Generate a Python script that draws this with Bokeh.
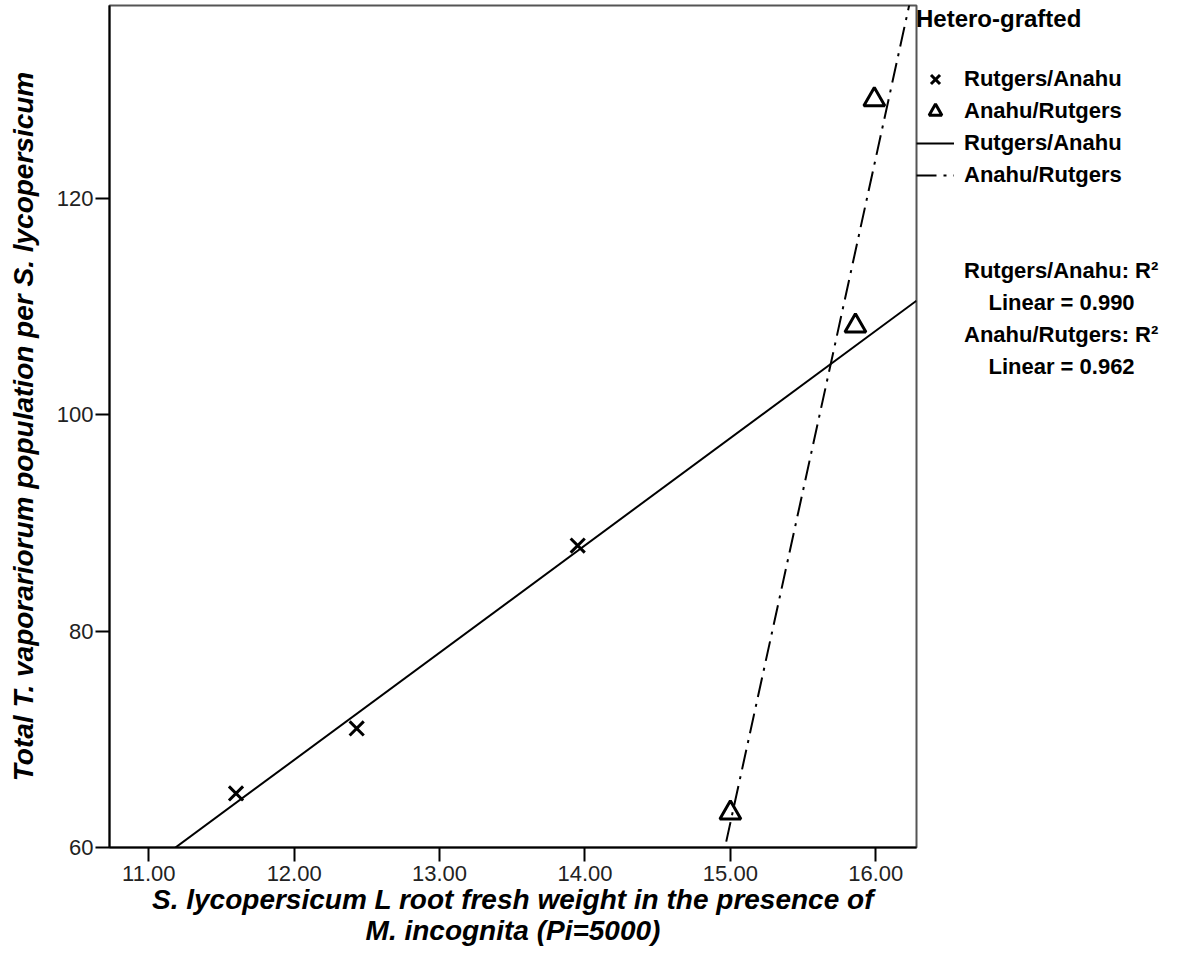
import numpy as np
from bokeh.plotting import figure
from bokeh.models import Legend, LegendItem, Range1d, FixedTicker, NumeralTickFormatter
from bokeh.embed import file_html
from bokeh.resources import INLINE

# ---- data ----
ra_x = [11.60, 12.43, 13.95]          # Rutgers/Anahu
ra_y = [65.0, 71.0, 87.9]
ar_x = [15.00, 15.86, 15.99]          # Anahu/Rutgers
ar_y = [63.2, 108.2, 129.1]
x_ticks = [11, 12, 13, 14, 15, 16]
y_ticks = [60, 80, 100, 120]
r2_ra = 0.990
r2_ar = 0.962
x_lo, x_hi = 10.73, 16.28
y_lo, y_hi = 60.0, 137.8

FONT = "Liberation Sans"
NB = "\u00a0"

p = figure(frame_width=807, frame_height=842, output_backend="svg", toolbar_location=None,
           x_range=Range1d(x_lo, x_hi), y_range=Range1d(y_lo, y_hi),
           min_border_left=109, min_border_right=267, min_border_top=5, min_border_bottom=118)
p.grid.visible = False
p.background_fill_color = "white"
p.border_fill_color = "white"
p.outline_line_color = "#555555"
p.outline_line_width = 2

# fit lines (least squares from the data)
ra_fit = np.polyfit(ra_x, ra_y, 1)
ar_fit = np.polyfit(ar_x, ar_y, 1)
xs = np.array([x_lo, x_hi])
r_ra_line = p.line(xs, np.polyval(ra_fit, xs), line_color="black", line_width=2)
r_ar_line = p.line(xs, np.polyval(ar_fit, xs), line_color="black", line_width=2,
                   line_dash="20 7 3 7")

r_ra = p.scatter(ra_x, ra_y, marker="x", size=20, line_color="black", line_width=3)
r_ar = p.scatter(ar_x, ar_y, marker="triangle", size=21, line_color="black",
                 line_width=3, fill_color=None)

# axes
p.xaxis.ticker = FixedTicker(ticks=x_ticks)
p.yaxis.ticker = FixedTicker(ticks=y_ticks)
p.xaxis.formatter = NumeralTickFormatter(format="0.00")
p.yaxis.formatter = NumeralTickFormatter(format="0")
for ax in (p.xaxis[0], p.yaxis[0]):
    ax.axis_line_color = "black"
    ax.axis_line_width = 2
    ax.major_tick_line_color = "black"
    ax.major_tick_line_width = 2
    ax.major_tick_in = 0
    ax.major_tick_out = 14
    ax.minor_tick_line_color = None
    ax.major_label_text_font = FONT
    ax.major_label_text_font_size = "22px"
    ax.major_label_text_color = "#222222"
    ax.axis_label_text_font = FONT
    ax.axis_label_text_font_style = "bold italic"
    ax.axis_label_text_font_size = "28px"
    ax.axis_label_text_line_height = 1.0
    ax.axis_label_text_color = "black"

p.xaxis.major_label_standoff = 4
p.xaxis.axis_label = "S. lycopersicum L root fresh weight in the presence of\nM. incognita (Pi=5000)"
p.xaxis.axis_label_standoff = 0
p.yaxis.major_label_standoff = 2
p.yaxis.axis_label = "Total T. vaporariorum population per S. lycopersicum"
p.yaxis.axis_label_standoff = 15

# legend (symbols, fit lines, and the R-squared notes below them)
legend = Legend(items=[
    LegendItem(label="Rutgers/Anahu", renderers=[r_ra]),
    LegendItem(label="Anahu/Rutgers", renderers=[r_ar]),
    LegendItem(label="Rutgers/Anahu", renderers=[r_ra_line]),
    LegendItem(label="Anahu/Rutgers", renderers=[r_ar_line]),
    LegendItem(label=NB, renderers=[]),
    LegendItem(label=NB, renderers=[]),
    LegendItem(label="Rutgers/Anahu: R\u00b2", renderers=[]),
    LegendItem(label=NB * 4 + f"Linear = {r2_ra:.3f}", renderers=[]),
    LegendItem(label="Anahu/Rutgers: R\u00b2", renderers=[]),
    LegendItem(label=NB * 4 + f"Linear = {r2_ar:.3f}", renderers=[]),
], location="top_left", title="Hetero-grafted")
legend.title_text_font = FONT
legend.title_text_font_style = "bold"
legend.title_text_font_size = "24px"
legend.title_text_color = "black"
legend.title_standoff = 30
legend.label_text_font = FONT
legend.label_text_font_style = "bold"
legend.label_text_font_size = "22px"
legend.label_text_color = "black"
legend.label_height = 32
legend.glyph_height = 32
legend.glyph_width = 38
legend.label_standoff = 10
legend.spacing = 0
legend.padding = 12
legend.margin = 0
legend.border_line_color = None
legend.background_fill_alpha = 0
p.add_layout(legend, "right")

open("out.html", "w").write(file_html(p, INLINE))
